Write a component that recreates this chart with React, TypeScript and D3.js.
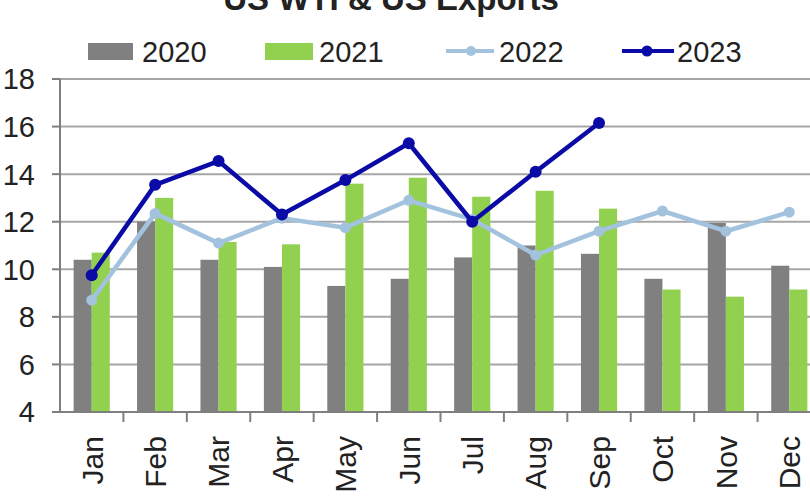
import React from 'react';
import * as d3 from 'd3';

// values
const months = ['Jan', 'Feb', 'Mar', 'Apr', 'May', 'Jun', 'Jul', 'Aug', 'Sep', 'Oct', 'Nov', 'Dec'];
const barYears = ['2020', '2021'];
const values2020 = [10.4, 12.0, 10.4, 10.1, 9.3, 9.6, 10.5, 11.0, 10.65, 9.6, 11.95, 10.15];
const values2021 = [10.7, 13.0, 11.15, 11.05, 13.6, 13.85, 13.05, 13.3, 12.55, 9.15, 8.85, 9.15];
const values2022 = [8.7, 12.35, 11.1, 12.15, 11.75, 12.9, 12.1, 10.6, 11.6, 12.45, 11.6, 12.4];
const values2023 = [9.75, 13.55, 14.55, 12.3, 13.75, 15.3, 12.0, 14.1, 16.15];
const yTicks = [4, 6, 8, 10, 12, 14, 16, 18];
const title = 'US WTI & US Exports';

const W = 810;
const H = 502;
const FONT = '"Liberation Sans", Arial, sans-serif';
const GRAY = '#808080';
const GREEN = '#92d050';
const LIGHT = '#a3c2de';
const DARK = '#0a0aa6';

const App = () => {
  const x = d3.scaleBand().domain(months).range([60, 821]).padding(0);
  const bw = x.bandwidth();
  const x1 = d3.scaleBand().domain(barYears).range([bw * 0.215, bw * 0.785]).padding(0);
  const y = d3.scaleLinear().domain([4, 18]).range([412, 79]);
  const cx = (i: number) => (x(months[i]) as number) + bw / 2;

  const line = d3.line<number>().x((_, i) => cx(i)).y(d => y(d));

  const barSeries = [
    { key: '2020', vals: values2020, color: GRAY },
    { key: '2021', vals: values2021, color: GREEN },
  ];

  return (
    <svg width={W} height={H} style={{ position: 'absolute', left: 0, top: 0, background: '#fff' }}>
      {/* title, cut off at top */}
      <text x={391} y={10} textAnchor="middle" fontFamily={FONT} fontWeight="bold" fontSize={33} fill="#222">
        {title}
      </text>

      {/* legend */}
      <g fontFamily={FONT} fontSize={29} fill="#222">
        <rect x={88} y={43} width={45} height={17} fill={GRAY} />
        <text x={142} y={62}>2020</text>
        <rect x={265} y={43} width={48} height={17} fill={GREEN} />
        <text x={319} y={62}>2021</text>
        <line x1={446} x2={494} y1={51} y2={51} stroke={LIGHT} strokeWidth={4} />
        <circle cx={471} cy={51} r={5} fill={LIGHT} />
        <text x={499} y={62}>2022</text>
        <line x1={622} x2={674} y1={51} y2={51} stroke={DARK} strokeWidth={4} />
        <circle cx={647} cy={51} r={5.5} fill={DARK} />
        <text x={677} y={62}>2023</text>
      </g>

      {/* gridlines */}
      {yTicks.filter(t => t > 4).map(t => (
        <line key={t} x1={60} x2={W} y1={y(t)} y2={y(t)} stroke="#a6a6a6" strokeWidth={2} />
      ))}

      {/* bars */}
      {barSeries.map(s => (
        <g key={s.key}>
          {s.vals.map((v, i) => (
            <rect
              key={i}
              x={(x(months[i]) as number) + (x1(s.key) as number)}
              y={y(v)}
              width={x1.bandwidth()}
              height={y(4) - y(v)}
              fill={s.color}
            />
          ))}
        </g>
      ))}

      {/* axes */}
      <line x1={60} x2={60} y1={y(18)} y2={y(4)} stroke="#7f7f7f" strokeWidth={2} />
      <line x1={52} x2={W} y1={y(4)} y2={y(4)} stroke="#7f7f7f" strokeWidth={2} />
      {yTicks.map(t => (
        <g key={t}>
          <line x1={52} x2={60} y1={y(t)} y2={y(t)} stroke="#7f7f7f" strokeWidth={2} />
          <text x={35} y={y(t)} dy="0.36em" textAnchor="end" fontFamily={FONT} fontSize={29} fill="#222">
            {t}
          </text>
        </g>
      ))}
      {months.map((m, i) => (
        <line
          key={m}
          x1={(x(m) as number) + bw}
          x2={(x(m) as number) + bw}
          y1={y(4)}
          y2={y(4) + 10}
          stroke="#7f7f7f"
          strokeWidth={2}
        />
      ))}
      {months.map((m, i) => (
        <text
          key={m}
          transform={`translate(${cx(i)},436) rotate(-90)`}
          dy="0.36em"
          textAnchor="end"
          fontFamily={FONT}
          fontSize={30}
          fill="#222"
        >
          {m}
        </text>
      ))}

      {/* 2022 line */}
      <path d={line(values2022) || ''} fill="none" stroke={LIGHT} strokeWidth={4.5} strokeLinejoin="round" />
      {values2022.map((v, i) => (
        <circle key={i} cx={cx(i)} cy={y(v)} r={5.5} fill={LIGHT} />
      ))}

      {/* 2023 line */}
      <path d={line(values2023) || ''} fill="none" stroke={DARK} strokeWidth={4.5} strokeLinejoin="round" />
      {values2023.map((v, i) => (
        <circle key={i} cx={cx(i)} cy={y(v)} r={6} fill={DARK} />
      ))}
    </svg>
  );
};

export default App;
